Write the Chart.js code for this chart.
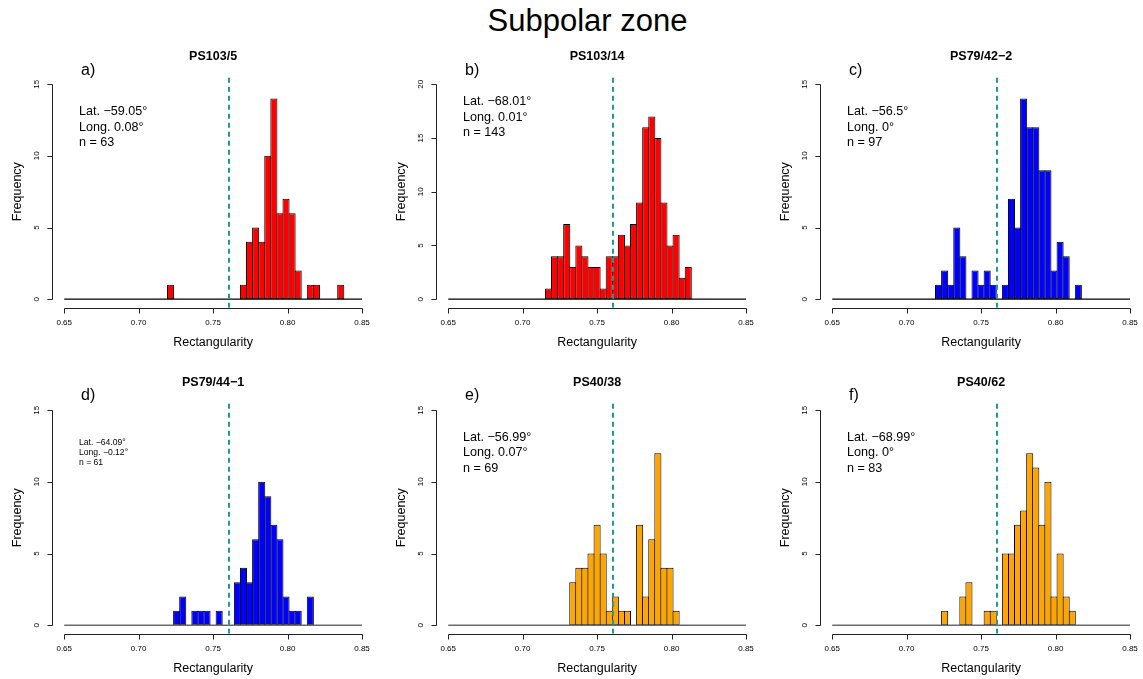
<!DOCTYPE html>
<html>
<head>
<meta charset="utf-8">
<script src="https://cdn.jsdelivr.net/npm/chart.js@4.4.1/dist/chart.umd.min.js"></script>
<style>
html,body{margin:0;padding:0;background:#fff;}
body{width:1143px;height:679px;position:relative;overflow:hidden;font-family:"Liberation Sans",Arial,Helvetica,sans-serif;}
#title{position:absolute;left:0;width:1175px;top:5px;text-align:center;font-size:31px;line-height:31px;color:#000;}
.panel{position:absolute;width:384px;height:310px;}
canvas{display:block;}
</style>
</head>
<body>
<div id="title">Subpolar zone</div>
<div class="panel" style="left:0px;top:40px"><canvas id="c0" width="384" height="310"></canvas></div>
<div class="panel" style="left:384px;top:40px"><canvas id="c1" width="384" height="310"></canvas></div>
<div class="panel" style="left:768px;top:40px"><canvas id="c2" width="384" height="310"></canvas></div>
<div class="panel" style="left:0px;top:366px"><canvas id="c3" width="384" height="310"></canvas></div>
<div class="panel" style="left:384px;top:366px"><canvas id="c4" width="384" height="310"></canvas></div>
<div class="panel" style="left:768px;top:366px"><canvas id="c5" width="384" height="310"></canvas></div>
<script>
// ---------- data ----------
const xTicks = [0.65, 0.70, 0.75, 0.80, 0.85];
const nBins = 49; // histogram breaks: 0.65 .. 0.85 in 49 equal bins
const binCenters = Array.from({length: nBins}, (_, i) => 0.65 + (i + 0.5) * 0.2 / nBins);

const countsA = [0,0,0,0,0,0,0,0,0,0, 0,0,0,0,0,0,0,1,0,0, 0,0,0,0,0,0,0,0,0,1, 4,5,4,10,14,6,7,6,2,0, 1,1,0,0,0,1,0,0,0];
const countsB = [0,0,0,0,0,0,0,0,0,0, 0,0,0,0,0,0,1,4,4,7, 3,5,4,3,3,1,4,4,6,5, 7,9,16,17,15,9,5,6,2,3, 0,0,0,0,0,0,0,0,0];
const countsC = [0,0,0,0,0,0,0,0,0,0, 0,0,0,0,0,0,0,1,2,1, 5,3,0,2,1,2,1,0,1,7, 5,14,12,12,9,9,2,4,3,0, 1,0,0,0,0,0,0,0,0];
const countsD = [0,0,0,0,0,0,0,0,0,0, 0,0,0,0,0,0,0,0,1,2, 0,1,1,1,0,1,0,0,3,4, 3,6,10,9,7,6,2,1,1,0, 2,0,0,0,0,0,0,0,0];
const countsE = [0,0,0,0,0,0,0,0,0,0, 0,0,0,0,0,0,0,0,0,0, 3,4,4,5,7,5,1,2,1,1, 0,7,2,6,12,4,4,1,0,0, 0,0,0,0,0,0,0,0,0];
const countsF = [0,0,0,0,0,0,0,0,0,0, 0,0,0,0,0,0,0,0,1,0, 0,2,3,0,0,1,1,0,5,5, 7,8,12,11,7,10,2,5,2,1, 0,0,0,0,0,0,0,0,0];

const panelCounts = [countsA, countsB, countsC, countsD, countsE, countsF];
const panelTitles = ["PS103/5", "PS103/14", "PS79/42\u22122", "PS79/44\u22121", "PS40/38", "PS40/62"];
const panelLetters = ["a)", "b)", "c)", "d)", "e)", "f)"];
const latitudes = ["\u221259.05\u00b0", "\u221268.01\u00b0", "\u221256.5\u00b0", "\u221264.09\u00b0", "\u221256.99\u00b0", "\u221268.99\u00b0"];
const longitudes = ["0.08\u00b0", "0.01\u00b0", "0\u00b0", "\u22120.12\u00b0", "0.07\u00b0", "0\u00b0"];
const sampleSizes = [63, 143, 97, 61, 69, 83];
const yTickSets = [[0,5,10,15], [0,5,10,15,20], [0,5,10,15], [0,5,10,15], [0,5,10,15], [0,5,10,15]];
const meanRect = 0.7607;

// ---------- styles ----------
const barColors = ["#FF0000", "#FF0000", "#0000FF", "#0000FF", "#FFA500", "#FFA500"];
const baseColors = ["#000000", "#000000", "#000000", "#6a6a6a", "#6a6a6a", "#6a6a6a"];
const annoY = [[72, 87.5, 102.5], [62, 77.5, 92.5], [72, 87.5, 102.5], [77, 86.7, 96.3], [71.5, 87, 102.5], [71.5, 87, 102.5]];
const annoSize = [12.6, 12.6, 12.6, 8.6, 12.6, 12.6];
const letterY = [31, 31, 31, 30, 30, 30];
const FONT = '"Liberation Sans", Arial, Helvetica, sans-serif';

const decor = {
  id: 'decor',
  afterDraw(chart, args, o) {
    const i = o.idx;
    const {ctx, chartArea: ca, scales: {x, y}} = chart;
    const ticksY = yTickSets[i];
    ctx.save();
    ctx.strokeStyle = '#222';
    ctx.lineWidth = 1;
    ctx.beginPath();
    const yb = Math.round(ca.bottom) + 0.5;
    ctx.moveTo(Math.round(x.getPixelForValue(xTicks[0])) + 0.5, yb);
    ctx.lineTo(Math.round(x.getPixelForValue(xTicks[xTicks.length - 1])) + 0.5, yb);
    for (const t of xTicks) {
      const px = Math.round(x.getPixelForValue(t)) + 0.5;
      ctx.moveTo(px, yb); ctx.lineTo(px, yb + 5);
    }
    const xl = Math.round(ca.left) + 0.5;
    ctx.moveTo(xl, Math.round(y.getPixelForValue(ticksY[0])) + 0.5);
    ctx.lineTo(xl, Math.round(y.getPixelForValue(ticksY[ticksY.length - 1])) + 0.5);
    for (const t of ticksY) {
      const py = Math.round(y.getPixelForValue(t)) + 0.5;
      ctx.moveTo(xl, py); ctx.lineTo(xl - 5, py);
    }
    ctx.stroke();

    const cx = (ca.left + ca.right) / 2;
    ctx.fillStyle = '#000';
    ctx.textAlign = 'center';
    ctx.textBaseline = 'middle';
    ctx.font = 'bold 12.5px ' + FONT;
    ctx.fillText(panelTitles[i], cx, 17);
    ctx.font = '12.5px ' + FONT;
    ctx.fillText('Rectangularity', cx, 303);
    ctx.save();
    ctx.translate(18, (ca.top + ca.bottom) / 2);
    ctx.rotate(-Math.PI / 2);
    ctx.fillText('Frequency', 0, 0);
    ctx.restore();

    ctx.textAlign = 'left';
    ctx.font = '16px ' + FONT;
    ctx.fillText(panelLetters[i], 81, letterY[i]);

    ctx.font = annoSize[i] + 'px ' + FONT;
    const ay = annoY[i];
    ctx.fillText('Lat. ' + latitudes[i], 79, ay[0]);
    ctx.fillText('Long. ' + longitudes[i], 79, ay[1]);
    ctx.fillText('n = ' + sampleSizes[i], 79, ay[2]);
    ctx.restore();
  }
};

function makeChart(i) {
  const counts = panelCounts[i];
  const ticksY = yTickSets[i];
  const yTop = ticksY[ticksY.length - 1];
  const yLo = -0.04 * yTop, yHi = 1.04 * yTop;
  new Chart(document.getElementById('c' + i), {
    type: 'bar',
    data: {
      datasets: [
        {
          type: 'line',
          order: 0,
          data: [{x: meanRect, y: yLo}, {x: meanRect, y: yHi}],
          borderColor: '#1b9b9b',
          borderWidth: 2,
          borderDash: [5, 4],
          pointRadius: 0,
          fill: false,
          tension: 0
        },
        {
          type: 'line',
          order: 1,
          data: [{x: xTicks[0], y: 0}, {x: xTicks[xTicks.length - 1], y: 0}],
          borderColor: baseColors[i],
          borderWidth: i < 3 ? 1.2 : 1.6,
          pointRadius: 0,
          fill: false,
          tension: 0
        },
        {
          type: 'bar',
          order: 2,
          data: binCenters.map((c, k) => ({x: c, y: counts[k]})),
          backgroundColor: (ctx) => (ctx.dataIndex !== undefined && counts[ctx.dataIndex] ? barColors[i] : 'rgba(0,0,0,0)'),
          borderColor: '#000',
          borderSkipped: false,
          inflateAmount: 0,
          borderWidth: (ctx) => (ctx.dataIndex !== undefined && !counts[ctx.dataIndex] ? 0 : 1),
          barPercentage: 1.165,
          categoryPercentage: 1
        }
      ]
    },
    options: {
      responsive: false,
      animation: false,
      events: [],
      layout: {padding: {left: 0, top: 35.6, right: 10.1, bottom: 0}},
      plugins: {legend: {display: false}, tooltip: {enabled: false}, decor: {idx: i}},
      scales: {
        x: {
          type: 'linear',
          offset: false,
          min: 0.642,
          max: 0.858,
          grid: {display: false, drawTicks: false},
          border: {display: false},
          afterBuildTicks: (s) => { s.ticks = xTicks.map(v => ({value: v})); },
          afterFit: (s) => { s.height = 42.2; },
          ticks: {
            padding: 10.5,
            color: '#000',
            font: {size: 8, family: FONT},
            maxRotation: 0, minRotation: 0,
            callback: (v) => Number(v).toFixed(2)
          }
        },
        y: {
          type: 'linear',
          min: yLo,
          max: yHi,
          grid: {display: false, drawTicks: false},
          border: {display: false},
          afterBuildTicks: (s) => { s.ticks = ticksY.map(v => ({value: v})); },
          afterFit: (s) => { s.width = 52.3; },
          ticks: {
            padding: 11,
            color: '#000',
            crossAlign: 'center',
            minRotation: 90, maxRotation: 90,
            font: {size: 8, family: FONT},
            callback: (v) => String(v)
          }
        }
      }
    },
    plugins: [decor]
  });
}
for (let i = 0; i < 6; i++) makeChart(i);
</script>
</body>
</html>
